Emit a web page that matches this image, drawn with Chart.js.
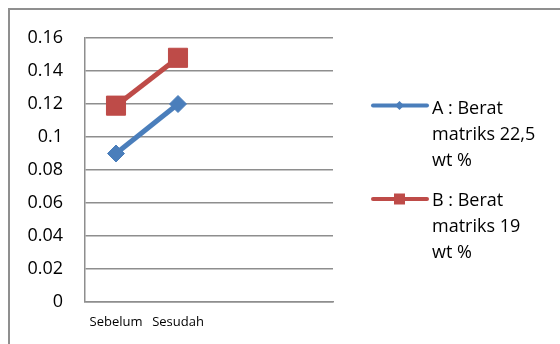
<!DOCTYPE html>
<html>
<head>
<meta charset="utf-8">
<script src="https://cdn.jsdelivr.net/npm/chart.js@4.4.1/dist/chart.umd.min.js"></script>
<style>
  html, body { margin: 0; padding: 0; background: #fff; }
  #wrap { width: 560px; height: 344px; }
</style>
</head>
<body>
<div id="wrap"><canvas id="lineChart" width="560" height="344"></canvas></div>
<script>
const categories = ['Sebelum', 'Sesudah', '', ''];
const seriesA = [0.09, 0.12, null, null];
const seriesB = [0.119, 0.148, null, null];
const legendA = ['A : Berat', 'matriks 22,5', 'wt %'];
const legendB = ['B : Berat', 'matriks 19', 'wt %'];
const yTickLabels = ['0', '0.02', '0.04', '0.06', '0.08', '0.1', '0.12', '0.14', '0.16'];

const blue = '#4a7ebb';
const red = '#be4b48';
const gridGray = '#8e8e8e';

// frame lines and the legend on the right
const extras = {
    id: 'extras',
    beforeDraw(chart) {
        const ctx = chart.ctx;
        ctx.save();
        ctx.strokeStyle = '#8f8f8f';
        ctx.lineWidth = 2;
        ctx.beginPath();
        ctx.moveTo(9, 344);
        ctx.lineTo(9, 9);
        ctx.lineTo(560, 9);
        ctx.stroke();
        ctx.restore();
    },
    afterDraw(chart) {
        const ctx = chart.ctx;
        const items = [
            { text: legendA, color: blue, shape: 'diamond', y: 105.5, base: 113.5 },
            { text: legendB, color: red, shape: 'square', y: 199, base: 206 }
        ];
        ctx.save();
        items.forEach(it => {
            ctx.strokeStyle = it.color;
            ctx.fillStyle = it.color;
            ctx.lineWidth = 4;
            ctx.lineCap = 'round';
            ctx.beginPath();
            ctx.moveTo(373, it.y);
            ctx.lineTo(427, it.y);
            ctx.stroke();
            const mx = 399.5;
            ctx.beginPath();
            if (it.shape === 'diamond') {
                ctx.moveTo(mx - 4.5, it.y);
                ctx.lineTo(mx, it.y - 4.5);
                ctx.lineTo(mx + 4.5, it.y);
                ctx.lineTo(mx, it.y + 4.5);
            } else {
                ctx.rect(mx - 5.5, it.y - 5.5, 11, 11);
            }
            ctx.closePath();
            ctx.fill();
            ctx.fillStyle = '#000';
            ctx.font = '18px "Open Sans"';
            ctx.textBaseline = 'alphabetic';
            ctx.textAlign = 'left';
            it.text.forEach((line, i) => {
                ctx.fillText(line, 432, it.base + i * 26);
            });
        });
        ctx.restore();
    }
};

new Chart(document.getElementById('lineChart'), {
    type: 'line',
    data: {
        labels: categories,
        datasets: [{
            label: legendA.join(' '),
            data: seriesA,
            borderColor: blue,
            backgroundColor: blue,
            borderWidth: 5,
            pointStyle: 'rectRot',
            pointRadius: 8.5,
            pointBorderWidth: 1,
            pointBackgroundColor: blue,
            pointBorderColor: blue,
            tension: 0
        }, {
            label: legendB.join(' '),
            data: seriesB,
            borderColor: red,
            backgroundColor: red,
            borderWidth: 5,
            pointStyle: 'rect',
            pointRadius: 13.5,
            pointBorderWidth: 1,
            pointBackgroundColor: red,
            pointBorderColor: red,
            tension: 0
        }]
    },
    plugins: [extras],
    options: {
        responsive: false,
        devicePixelRatio: 1,
        animation: false,
        layout: {
            padding: { left: 0, top: 38, right: 227, bottom: 0 }
        },
        plugins: {
            legend: { display: false },
            tooltip: { enabled: false }
        },
        scales: {
            x: {
                offset: true,
                afterFit: function(scale) { scale.height = 42; },
                grid: { display: false, drawTicks: false },
                border: { display: true, color: gridGray, width: 1.5 },
                ticks: {
                    padding: 12,
                    color: '#000',
                    maxRotation: 0,
                    autoSkip: false,
                    font: { family: 'Open Sans', size: 13 }
                }
            },
            y: {
                min: 0,
                max: 0.16,
                afterFit: function(scale) { scale.width = 85; },
                grid: { color: gridGray, lineWidth: 1.5, drawTicks: false },
                border: { display: true, color: gridGray, width: 1.5 },
                ticks: {
                    stepSize: 0.02,
                    padding: 22,
                    color: '#000',
                    font: { family: 'Open Sans', size: 18 },
                    callback: function(value, index) {
                        return yTickLabels[index];
                    }
                }
            }
        }
    }
});
</script>
</body>
</html>
